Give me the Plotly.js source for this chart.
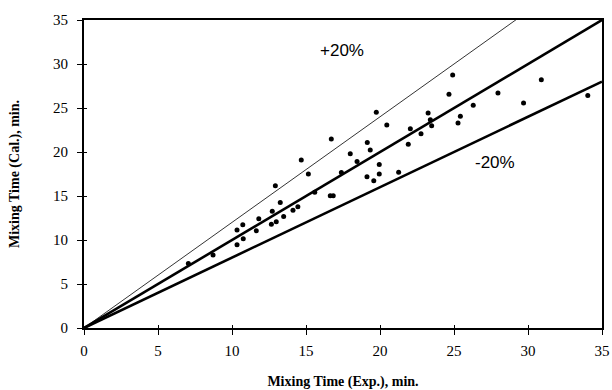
<!DOCTYPE html>
<html>
<head>
<meta charset="utf-8">
<script src="https://cdn.plot.ly/plotly-3.0.1.min.js"></script>
<style>html,body{margin:0;padding:0;background:#fff;}#chart{width:612px;height:390px;}</style>
</head>
<body>
<div id="chart"></div>
<script>
// Experimental vs calculated mixing time (min.)
const expTime = [7.05, 8.72, 10.34, 10.34, 10.76, 10.73, 11.64, 11.81, 12.66, 12.99, 12.72, 13.49, 14.12, 14.45, 13.26, 12.93, 14.68, 15.16, 15.59, 16.64, 16.84, 16.71, 17.39, 17.99, 18.45, 19.14, 19.34, 19.75, 19.95, 19.95, 19.12, 19.58, 20.46, 21.26, 21.91, 22.05, 22.77, 23.25, 23.40, 23.49, 24.66, 24.91, 25.27, 25.43, 26.30, 27.97, 29.70, 30.90, 34.04];
const calTime = [7.34, 8.30, 9.47, 11.14, 10.15, 11.74, 11.06, 12.42, 11.80, 12.08, 13.27, 12.68, 13.39, 13.78, 14.27, 16.17, 19.09, 17.51, 15.43, 15.03, 15.03, 21.48, 17.68, 19.81, 18.93, 21.09, 20.23, 24.52, 18.59, 17.50, 17.19, 16.74, 23.07, 17.70, 20.89, 22.65, 22.08, 24.43, 23.67, 22.99, 26.55, 28.75, 23.30, 24.07, 25.32, 26.70, 25.57, 28.22, 26.42];

// Reference lines: y = factor * x
const refX = [0, 35];
const factorPlus = 1.2;
const factorEqual = 1.0;
const factorMinus = 0.8;

const xTicks = [0, 5, 10, 15, 20, 25, 30, 35];
const yTicks = [0, 5, 10, 15, 20, 25, 30, 35];

const lineTrace = (f, w) => ({
  x: refX, y: refX.map(v => v * f), mode: 'lines', type: 'scatter',
  line: {color: '#000', width: w}, hoverinfo: 'skip', showlegend: false
});

const traces = [
  lineTrace(factorPlus, 0.8),
  lineTrace(factorEqual, 2.6),
  lineTrace(factorMinus, 2.6),
  {
    x: expTime, y: calTime, mode: 'markers', type: 'scatter', showlegend: false,
    marker: {symbol: 'circle', size: 5, color: '#000'}
  }
];

const tickFont = {family: 'Liberation Serif, Times New Roman, serif', size: 15, color: '#000'};
const titleFont = {family: 'Liberation Serif, Times New Roman, serif', size: 14, color: '#000', weight: 'bold'};

const baseAxis = {
  range: [0, 35], showgrid: false, zeroline: false,
  showline: true, linecolor: '#000', linewidth: 2, mirror: true,
  tickcolor: '#000', tickwidth: 1
};

const layout = {
  width: 612, height: 390,
  margin: {l: 84, r: 10, t: 20, b: 62},
  paper_bgcolor: '#fff', plot_bgcolor: '#fff',
  showlegend: false,
  xaxis: Object.assign({}, baseAxis, {
    tickvals: xTicks, ticktext: xTicks.map(String),
    ticks: 'outside', ticklen: 5, ticklabelstandoff: 3,
    tickfont: tickFont,
    title: {text: '<b>Mixing Time (Exp.), min.</b>', font: titleFont, standoff: 22}
  }),
  yaxis: Object.assign({}, baseAxis, {
    tickvals: yTicks, ticktext: yTicks.map(String),
    ticks: 'outside', ticklen: 5, ticklabelstandoff: 6,
    tickfont: tickFont,
    title: {text: '<b>Mixing Time (Cal.), min.</b>', font: titleFont, standoff: 30}
  }),
  xaxis2: Object.assign({}, baseAxis, {
    overlaying: 'x', anchor: 'y', side: 'bottom', mirror: false,
    tickvals: xTicks, ticks: 'inside', ticklen: 3, showticklabels: false
  }),
  yaxis2: Object.assign({}, baseAxis, {
    overlaying: 'y', anchor: 'x', side: 'left', mirror: false,
    tickvals: yTicks, ticks: 'inside', ticklen: 3, showticklabels: false
  }),
  annotations: [
    {x: 17.4, y: 31.5, xref: 'x', yref: 'y', text: '+20%', showarrow: false,
     font: {family: 'Liberation Sans, Arial, sans-serif', size: 17, color: '#000'}},
    {x: 27.8, y: 18.8, xref: 'x', yref: 'y', text: '-20%', showarrow: false,
     font: {family: 'Liberation Sans, Arial, sans-serif', size: 17, color: '#000'}}
  ]
};

traces.push({x: [0], y: [0], xaxis: 'x2', yaxis: 'y2', mode: 'markers', type: 'scatter',
  marker: {opacity: 0}, hoverinfo: 'skip', showlegend: false});

Plotly.newPlot('chart', traces, layout, {staticPlot: true, displayModeBar: false});
</script>
</body>
</html>
